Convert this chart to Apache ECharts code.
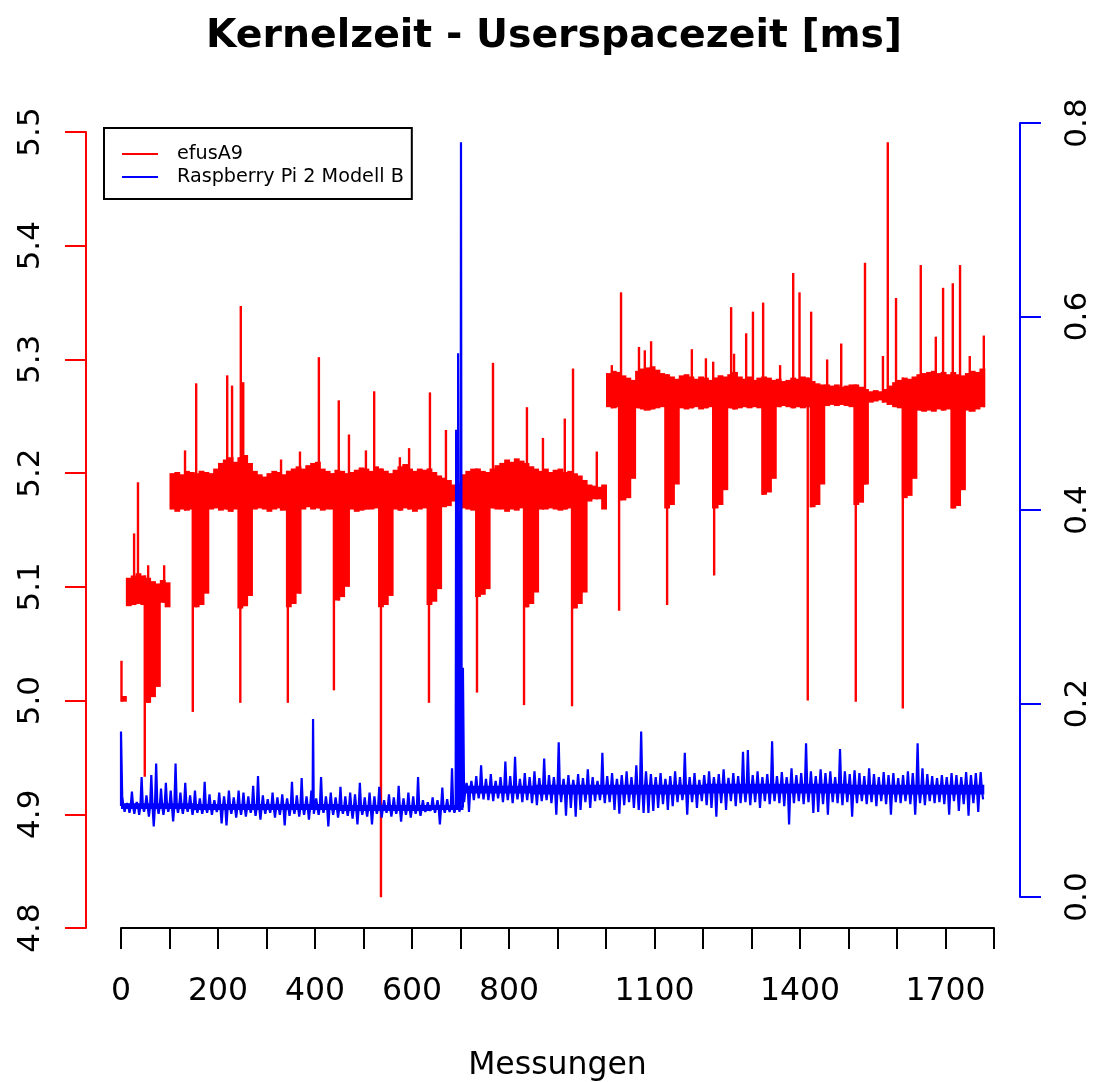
<!DOCTYPE html>
<html>
<head>
<meta charset="utf-8">
<title>Kernelzeit - Userspacezeit</title>
<script src="https://cdn.jsdelivr.net/npm/echarts@6/dist/echarts.min.js"></script>
<style>
  html, body { margin: 0; padding: 0; background: #fff; }
  #chart { width: 1098px; height: 1082px; }
</style>
</head>
<body>
<div id="chart"></div>
<script>
// measurements grouped in buckets of 10: lowest / highest value of the dense band in each bucket
const BUCKET = 10;

const redHi = [
  5.004, 5.108, 5.110, 5.112, 5.110, 5.108, 5.105, 5.103, 5.106, 5.104,
  5.200, 5.201, 5.199, 5.202, 5.201, 5.200, 5.202, 5.201, 5.200, 5.204,
  5.209, 5.212, 5.214, 5.210, 5.214, 5.216, 5.209, 5.202, 5.199, 5.197,
  5.200, 5.202, 5.201, 5.199, 5.202, 5.204, 5.206, 5.204, 5.207, 5.209,
  5.210, 5.204, 5.202, 5.200, 5.203, 5.202, 5.200, 5.201, 5.203, 5.205,
  5.204, 5.202, 5.206, 5.204, 5.202, 5.200, 5.203, 5.206, 5.208, 5.204,
  5.202, 5.204, 5.203, 5.204, 5.201, 5.198, 5.196, 5.194, 5.190, 5.192,
  5.199, 5.202, 5.204, 5.204, 5.202, 5.201, 5.204, 5.207, 5.209, 5.212,
  5.210, 5.213, 5.211, 5.209, 5.206, 5.204, 5.202, 5.204, 5.201, 5.203,
  5.204, 5.201, 5.202, 5.200, 5.198, 5.194, 5.190, 5.189, 5.188, 5.190,
  5.288, 5.290, 5.289, 5.286, 5.284, 5.282, 5.290, 5.292, 5.293, 5.294,
  5.291, 5.288, 5.287, 5.285, 5.283, 5.286, 5.287, 5.285, 5.283, 5.285,
  5.284, 5.282, 5.284, 5.286, 5.285, 5.287, 5.289, 5.285, 5.283, 5.285,
  5.282, 5.284, 5.285, 5.284, 5.282, 5.283, 5.281, 5.282, 5.284, 5.283,
  5.285, 5.284, 5.281, 5.279, 5.278, 5.278, 5.277, 5.278, 5.276, 5.277,
  5.278, 5.278, 5.276, 5.274, 5.272, 5.273, 5.272, 5.274, 5.277, 5.280,
  5.282, 5.284, 5.283, 5.285, 5.287, 5.288, 5.289, 5.290, 5.288, 5.289,
  5.287, 5.289, 5.287, 5.286, 5.288, 5.290, 5.289, 5.292
];
const redLo = [
  4.999, 5.083, 5.084, 5.085, 5.084, 4.998, 5.003, 5.012, 5.086, 5.082,
  5.168, 5.166, 5.168, 5.167, 5.168, 5.082, 5.084, 5.094, 5.168, 5.169,
  5.167, 5.168, 5.166, 5.168, 5.081, 5.083, 5.092, 5.168, 5.169, 5.168,
  5.166, 5.168, 5.169, 5.167, 5.082, 5.085, 5.094, 5.168, 5.170, 5.168,
  5.169, 5.167, 5.168, 5.168, 5.088, 5.091, 5.100, 5.168, 5.166, 5.167,
  5.168, 5.168, 5.169, 5.082, 5.084, 5.092, 5.168, 5.167, 5.169, 5.168,
  5.166, 5.168, 5.169, 5.084, 5.087, 5.098, 5.170, 5.171, 5.175, 5.174,
  5.169, 5.168, 5.167, 5.091, 5.093, 5.098, 5.169, 5.168, 5.168, 5.166,
  5.168, 5.167, 5.169, 5.082, 5.085, 5.095, 5.168, 5.168, 5.169, 5.168,
  5.167, 5.168, 5.169, 5.081, 5.085, 5.095, 5.175, 5.177, 5.177, 5.168,
  5.258, 5.257, 5.258, 5.176, 5.178, 5.195, 5.257, 5.256, 5.255, 5.256,
  5.257, 5.258, 5.169, 5.172, 5.190, 5.257, 5.256, 5.257, 5.258, 5.256,
  5.257, 5.258, 5.169, 5.172, 5.185, 5.257, 5.256, 5.257, 5.258, 5.257,
  5.258, 5.257, 5.181, 5.183, 5.195, 5.258, 5.259, 5.258, 5.257, 5.258,
  5.257, 5.258, 5.170, 5.172, 5.190, 5.259, 5.260, 5.259, 5.260, 5.259,
  5.258, 5.172, 5.174, 5.190, 5.262, 5.263, 5.264, 5.262, 5.260, 5.258,
  5.257, 5.178, 5.180, 5.195, 5.255, 5.254, 5.255, 5.254, 5.256, 5.255,
  5.256, 5.169, 5.171, 5.185, 5.255, 5.254, 5.256, 5.258
];
// single measurements sticking out of the red band: [measurement, value]
const redSpikes = [
  [1, 5.035], [27, 5.147], [35, 5.192], [49, 4.933], [56, 5.119], [89, 5.119],
  [132, 5.22], [148, 4.99], [155, 5.279], [219, 5.286], [229, 5.277], [246, 4.998],
  [247, 5.347], [252, 5.28], [330, 5.212], [344, 4.998], [369, 5.219], [408, 5.302],
  [439, 5.009], [449, 5.264], [470, 5.234], [505, 5.22], [522, 5.272], [536, 4.827],
  [575, 5.214], [594, 5.222], [635, 4.998], [637, 5.271], [670, 5.238], [734, 5.007],
  [767, 5.297], [831, 4.996], [837, 5.258], [870, 5.231], [915, 5.248], [930, 4.995],
  [932, 5.292], [981, 5.219], [1012, 5.295], [1027, 5.079], [1031, 5.359], [1068, 5.311],
  [1080, 5.308], [1093, 5.316], [1126, 5.084], [1177, 5.309], [1206, 5.301], [1221, 5.298],
  [1223, 5.11], [1237, 5.286], [1258, 5.346], [1264, 5.305], [1289, 5.323], [1303, 5.342],
  [1324, 5.35], [1359, 5.295], [1386, 5.376], [1399, 5.359], [1416, 5.0], [1423, 5.342],
  [1456, 5.3], [1485, 5.314], [1515, 4.999], [1534, 5.385], [1571, 5.303], [1581, 5.491],
  [1598, 5.354], [1612, 4.993], [1649, 5.383], [1680, 5.32], [1695, 5.363], [1715, 5.367],
  [1730, 5.383], [1750, 5.303], [1779, 5.321]
];

// blue: dense core as [from measurement, low, high]
const blueCoreSteps = [
  [0, 0.091, 0.097], [150, 0.090, 0.096], [450, 0.089, 0.095], [640, 0.090, 0.095],
  [706, 0.107, 0.115], [850, 0.106, 0.116], [1200, 0.107, 0.117], [1500, 0.106, 0.116]
];
const blueEnd = 1780;
const blueHi = [
  0.104, 0.097, 0.109, 0.098, 0.124, 0.105, 0.126, 0.138, 0.112, 0.118,
  0.110, 0.138, 0.108, 0.118, 0.105, 0.110, 0.102, 0.119, 0.106, 0.100,
  0.108, 0.104, 0.110, 0.103, 0.110, 0.108, 0.104, 0.115, 0.125, 0.105,
  0.101, 0.108, 0.103, 0.106, 0.102, 0.119, 0.105, 0.123, 0.104, 0.110,
  0.102, 0.124, 0.104, 0.108, 0.103, 0.114, 0.104, 0.108, 0.106, 0.118,
  0.103, 0.108, 0.104, 0.114, 0.100, 0.106, 0.103, 0.115, 0.102, 0.108,
  0.104, 0.124, 0.100, 0.098, 0.103, 0.100, 0.113, 0.101, 0.133, 0.110,
  0.130, 0.118, 0.120, 0.125, 0.136, 0.122, 0.127, 0.120, 0.124, 0.140,
  0.125, 0.145, 0.122, 0.128, 0.124, 0.130, 0.123, 0.143, 0.126, 0.124,
  0.160, 0.122, 0.126, 0.121, 0.127, 0.123, 0.132, 0.124, 0.120, 0.149,
  0.125, 0.128, 0.122, 0.126, 0.130, 0.124, 0.136, 0.171, 0.130, 0.127,
  0.124, 0.128, 0.122, 0.125, 0.130, 0.124, 0.149, 0.124, 0.128, 0.121,
  0.126, 0.130, 0.124, 0.127, 0.132, 0.123, 0.128, 0.125, 0.150, 0.152,
  0.126, 0.130, 0.124, 0.127, 0.161, 0.125, 0.129, 0.124, 0.133, 0.126,
  0.128, 0.159, 0.130, 0.125, 0.132, 0.128, 0.130, 0.124, 0.153, 0.130,
  0.127, 0.131, 0.128, 0.125, 0.133, 0.127, 0.124, 0.129, 0.126, 0.128,
  0.123, 0.126, 0.130, 0.128, 0.159, 0.133, 0.127, 0.125, 0.123, 0.126,
  0.124, 0.128, 0.126, 0.124, 0.129, 0.126, 0.128, 0.129
];
const blueLo = [
  0.088, 0.087, 0.086, 0.085, 0.088, 0.083, 0.073, 0.086, 0.085, 0.088,
  0.078, 0.087, 0.086, 0.088, 0.085, 0.087, 0.086, 0.087, 0.085, 0.088,
  0.076, 0.074, 0.086, 0.082, 0.085, 0.083, 0.087, 0.084, 0.080, 0.086,
  0.087, 0.082, 0.085, 0.074, 0.084, 0.086, 0.083, 0.085, 0.080, 0.086,
  0.085, 0.087, 0.073, 0.085, 0.082, 0.086, 0.084, 0.081, 0.075, 0.085,
  0.083, 0.075, 0.086, 0.082, 0.087, 0.083, 0.086, 0.078, 0.085, 0.082,
  0.086, 0.084, 0.088, 0.089, 0.087, 0.075, 0.087, 0.088, 0.087, 0.088,
  0.098, 0.088, 0.100, 0.102, 0.101, 0.100, 0.099, 0.102, 0.098, 0.100,
  0.097, 0.101, 0.098, 0.100, 0.097, 0.095, 0.099, 0.100, 0.097, 0.085,
  0.098, 0.084, 0.092, 0.083, 0.090, 0.098, 0.092, 0.099, 0.100, 0.097,
  0.098, 0.090, 0.086, 0.095, 0.098, 0.092, 0.090, 0.087, 0.087, 0.089,
  0.092, 0.096, 0.090, 0.094, 0.098, 0.100, 0.085, 0.098, 0.092, 0.099,
  0.095, 0.092, 0.083, 0.097, 0.090, 0.099, 0.094, 0.097, 0.098, 0.095,
  0.098, 0.092, 0.099, 0.096, 0.099, 0.097, 0.094, 0.075, 0.097, 0.099,
  0.096, 0.098, 0.087, 0.088, 0.096, 0.085, 0.098, 0.097, 0.095, 0.098,
  0.083, 0.097, 0.099, 0.096, 0.098, 0.094, 0.099, 0.096, 0.085, 0.098,
  0.097, 0.099, 0.096, 0.085, 0.097, 0.095, 0.099, 0.097, 0.098, 0.096,
  0.085, 0.099, 0.089, 0.096, 0.084, 0.097, 0.088, 0.101
];
const blueSpikes = [[0, 0.171], [396, 0.184], [691, 0.483], [695, 0.562], [701, 0.78], [705, 0.237]];

const xLabelled = [0, 200, 400, 600, 800, 1100, 1400, 1700];

const font = 'DejaVu Sans';
const chart = echarts.init(document.getElementById('chart'));

const redBand = redHi.map((hi, i) => [i * BUCKET, redLo[i], hi, i * BUCKET + BUCKET]);
const redSpikeData = redSpikes.map(([m, v]) => {
  const b = Math.min(Math.floor(m / BUCKET), redHi.length - 1);
  return [m, v > redHi[b] ? redLo[b] : redHi[b], v];
});

const blueCore = blueCoreSteps.map((s, i) => [s[0], s[1], s[2], i + 1 < blueCoreSteps.length ? blueCoreSteps[i + 1][0] : blueEnd]);

// blue: each bucket runs core -> high -> core -> low, single spikes slotted in by position
const coreMid = m => {
  const s = blueCoreSteps.filter(st => st[0] <= m).pop();
  return (s[1] + s[2]) / 2;
};
const bluePoints = [];
blueHi.forEach((hi, i) => {
  const m = i * BUCKET, mid = coreMid(m);
  bluePoints.push([m, mid], [m + 2.5, hi], [m + 5, mid], [m + 7.5, blueLo[i]]);
});
blueSpikes.forEach(p => bluePoints.push(p));
bluePoints.sort((a, b) => a[0] - b[0]);

const bandRect = (color, widthPad) => (params, api) => {
  const top = api.coord([api.value(0), api.value(2)]);
  const bottom = api.coord([api.value(3), api.value(1)]);
  return {
    type: 'rect',
    shape: { x: top[0], y: top[1], width: bottom[0] - top[0] + widthPad, height: bottom[1] - top[1] },
    style: { fill: color }
  };
};

const option = {
  backgroundColor: '#fff',
  animation: false,
  title: {
    text: 'Kernelzeit - Userspacezeit [ms]',
    left: 549, top: 12, textAlign: 'center',
    textStyle: { fontFamily: font, fontSize: 39.4, fontWeight: 'bold', color: '#000' }
  },
  legend: {
    data: ['efusA9', 'Raspberry Pi 2 Modell B'],
    orient: 'vertical', left: 104, top: 128,
    icon: 'rect', itemWidth: 36, itemHeight: 2, itemGap: 1,
    padding: [15, 8, 11, 18],
    borderColor: '#000', borderWidth: 2,
    selectedMode: false,
    textStyle: { fontFamily: font, fontSize: 19.2, color: '#000', lineHeight: 22, padding: [0, 0, 0, 14] }
  },
  grid: [
    { left: 121, top: 132, width: 873, height: 796, outerBoundsMode: 'none' },
    { left: 121, top: 123, width: 873, height: 774, outerBoundsMode: 'none' }
  ],
  xAxis: [{
    gridIndex: 0, type: 'value', min: 0, max: 1800, interval: 100,
    name: 'Messungen', nameLocation: 'middle', nameGap: 122,
    nameTextStyle: { fontFamily: font, fontSize: 31.5, color: '#000' },
    axisLine: { show: true, onZero: false, lineStyle: { color: '#000', width: 2 } },
    axisTick: { show: true, length: 21, lineStyle: { color: '#000', width: 2 } },
    axisLabel: {
      interval: 0, margin: 48, fontFamily: font, fontSize: 31.5, color: '#000',
      formatter: v => xLabelled.includes(v) ? String(v) : ''
    },
    splitLine: { show: false }
  }, {
    gridIndex: 1, type: 'value', min: 0, max: 1800, show: false
  }],
  yAxis: [{
    gridIndex: 0, type: 'value', position: 'left', offset: 35,
    min: 4.8, max: 5.5, interval: 0.1,
    axisLine: { show: true, onZero: false, lineStyle: { color: '#ff0000', width: 2 } },
    axisTick: { show: true, length: 21, lineStyle: { color: '#ff0000', width: 2 } },
    axisLabel: { rotate: 90, margin: 40, fontFamily: font, fontSize: 31, color: '#000', formatter: v => v.toFixed(1) },
    splitLine: { show: false }
  }, {
    gridIndex: 1, type: 'value', position: 'right', offset: 26,
    min: 0, max: 0.8, interval: 0.2,
    axisLine: { show: true, onZero: false, lineStyle: { color: '#0000ff', width: 2 } },
    axisTick: { show: true, length: 21, lineStyle: { color: '#0000ff', width: 2 } },
    axisLabel: { rotate: 90, margin: 42, fontFamily: font, fontSize: 31, color: '#000', formatter: v => v.toFixed(1) },
    splitLine: { show: false }
  }],
  series: [{
    name: 'efusA9',
    type: 'custom',
    xAxisIndex: 0, yAxisIndex: 0,
    itemStyle: { color: '#ff0000' },
    encode: { x: 0, y: [1, 2] },
    data: redBand,
    renderItem: bandRect('#ff0000', 1)
  }, {
    name: 'efusA9 spikes',
    type: 'custom',
    xAxisIndex: 0, yAxisIndex: 0,
    encode: { x: 0, y: [1, 2] },
    data: redSpikeData,
    renderItem: (params, api) => {
      const a = api.coord([api.value(0), api.value(1)]);
      const b = api.coord([api.value(0), api.value(2)]);
      return {
        type: 'line',
        shape: { x1: a[0], y1: a[1], x2: b[0], y2: b[1] },
        style: { stroke: '#ff0000', lineWidth: 2.4 }
      };
    }
  }, {
    name: 'Raspberry Pi 2 Modell B core',
    type: 'custom',
    xAxisIndex: 1, yAxisIndex: 1,
    encode: { x: 0, y: [1, 2] },
    data: blueCore,
    renderItem: bandRect('#0000ff', 0)
  }, {
    name: 'Raspberry Pi 2 Modell B',
    type: 'line',
    xAxisIndex: 1, yAxisIndex: 1,
    data: bluePoints,
    showSymbol: false,
    itemStyle: { color: '#0000ff' },
    lineStyle: { color: '#0000ff', width: 2.2 }
  }]
};

chart.setOption(option);
</script>
</body>
</html>
